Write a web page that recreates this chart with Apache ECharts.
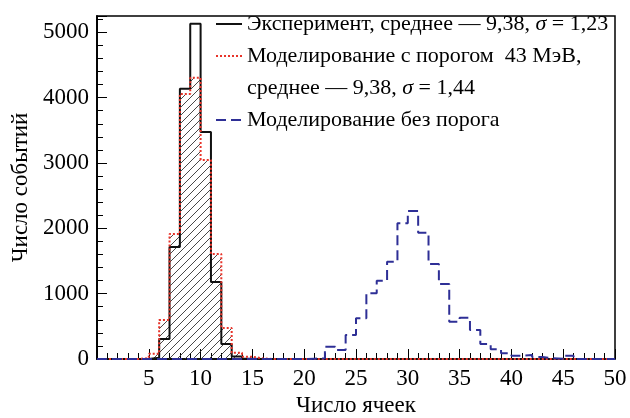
<!DOCTYPE html>
<html><head><meta charset="utf-8">
<script src="https://cdn.jsdelivr.net/npm/echarts@6/dist/echarts.min.js"></script>
<style>html,body{margin:0;padding:0;background:#fff}#c{width:630px;height:418px}</style>
</head><body><div id="c"></div>
<script>
// bin edges (bins of width 1 from 0 to 50)
const binEdges = [0,1,2,3,4,5,6,7,8,9,10,11,12,13,14,15,16,17,18,19,20,21,22,23,24,25,26,27,28,29,30,31,32,33,34,35,36,37,38,39,40,41,42,43,44,45,46,47,48,49,50];
// counts per bin (bin i = [i, i+1])
const experiment = [0,0,0,0,0,20,306,1715,4135,5130,3476,1179,230,40,5,0,0,0,0,0,0,0,0,0,0,0,0,0,0,0,0,0,0,0,0,0,0,0,0,0,0,0,0,0,0,0,0,0,0,0];
const simThreshold = [0,0,0,0,15,80,597,1914,4058,4303,3047,1608,475,95,35,10,0,0,0,0,0,0,0,0,0,0,0,0,0,0,0,0,0,0,0,0,0,0,0,0,0,0,0,0,0,0,0,0,0,0];
const simNoThreshold = [0,0,0,0,0,0,0,0,0,0,0,0,0,0,0,0,0,0,0,0,5,10,188,138,367,623,1006,1199,1490,2078,2266,1934,1455,1149,571,632,444,230,148,87,51,61,30,12,5,51,0,0,0,0];
const xTicks = [5,10,15,20,25,30,35,40,45,50];
const yTicks = [0,1000,2000,3000,4000,5000];
const names = ['Эксперимент, среднее — 9,38, σ = 1,23','Моделирование с порогом  43 МэВ,','среднее — 9,38, σ = 1,44','Моделирование без порога'];

function steps(vals){
  const d = vals.map((v,i)=>[binEdges[i], v]);
  d.push([binEdges[binEdges.length-1], vals[vals.length-1]]);
  return d;
}
const hatch = document.createElement('canvas'); hatch.width=8; hatch.height=8;
const g = hatch.getContext('2d'); g.strokeStyle='#333'; g.lineWidth=0.9;
g.beginPath(); g.moveTo(0,8); g.lineTo(8,0); g.moveTo(-1,1); g.lineTo(1,-1); g.moveTo(7,9); g.lineTo(9,7); g.stroke();

const FF = "'Liberation Serif', 'Times New Roman', serif";
const chart = echarts.init(document.getElementById('c'));
const axisLine = {show:true, lineStyle:{color:'#000', width:1.5}};
chart.setOption({
  animation:false,
  textStyle:{fontFamily:FF},
  grid:{left:97, right:15, top:16, bottom:59, show:true, borderColor:'#000', borderWidth:1.5, backgroundColor:'transparent', containLabel:false, outerBoundsMode:'none'},
  legend:{
    orient:'vertical', left:210, top:8, itemWidth:26, itemHeight:14, itemGap:10, selectedMode:false,
    itemStyle:{color:'rgba(0,0,0,0)', borderColor:'rgba(0,0,0,0)', borderWidth:0},
    textStyle:{fontFamily:FF, fontSize:22, color:'#000', rich:{i:{fontFamily:FF, fontSize:22, fontStyle:'italic', color:'#000'}}},
    formatter: n => n.replace('σ','{i|σ}'),
    data:[{name:names[0]},{name:names[1]},{name:names[2], icon:'none'},{name:names[3]}]
  },
  xAxis:{
    type:'value', min:0, max:50, interval:5,
    name:'Число ячеек', nameLocation:'middle', nameGap:35,
    nameTextStyle:{fontFamily:FF, fontSize:23, color:'#000'},
    axisLine: axisLine,
    axisTick:{inside:true, length:10, lineStyle:{color:'#000', width:1}},
    minorTick:{show:true, splitNumber:5, length:6, lineStyle:{color:'#000', width:1}},
    splitLine:{show:false},
    axisLabel:{fontFamily:FF, fontSize:23, color:'#000', margin:8,
      formatter: v => xTicks.indexOf(v) >= 0 ? String(v) : ''}
  },
  yAxis:[{
    type:'value', min:0, max:5250, interval:1000, position:'left',
    name:'Число событий', nameLocation:'middle', nameGap:65,
    nameTextStyle:{fontFamily:FF, fontSize:23, color:'#000'},
    axisLine: axisLine,
    axisTick:{inside:true, length:10, lineStyle:{color:'#000', width:1}},
    splitLine:{show:false},
    axisLabel:{fontFamily:FF, fontSize:23, color:'#000', margin:8,
      formatter: v => yTicks.indexOf(v) >= 0 ? String(v) : ''}
  },{
    type:'value', min:0, max:5250, interval:200, position:'left', offset:0,
    axisLine: axisLine,
    axisTick:{inside:true, length:6, lineStyle:{color:'#000', width:1}},
    splitLine:{show:false}, axisLabel:{show:false}
  }],
  series:[
    {name:'_hatch', type:'line', step:'end', data:steps(simThreshold), symbol:'none', silent:true,
     lineStyle:{width:0, opacity:0}, areaStyle:{color:{image:hatch, repeat:'repeat'}, opacity:1}, z:1},
    {name:names[0], type:'line', step:'end', data:steps(experiment), symbol:'none', silent:true,
     color:'#111', lineStyle:{color:'#111', width:2}, z:3},
    {name:names[1], type:'line', step:'end', data:steps(simThreshold), symbol:'none', silent:true,
     color:'#e8342a', lineStyle:{color:'#e8342a', width:2, type:'dotted'}, z:4},
    {name:names[2], type:'line', data:[], symbol:'none', color:'#fff'},
    {name:names[3], type:'line', step:'end', data:steps(simNoThreshold), symbol:'none', silent:true,
     color:'#2e2f96', lineStyle:{color:'#2e2f96', width:2, type:[10,5]}, z:5}
  ]
});
</script></body></html>
